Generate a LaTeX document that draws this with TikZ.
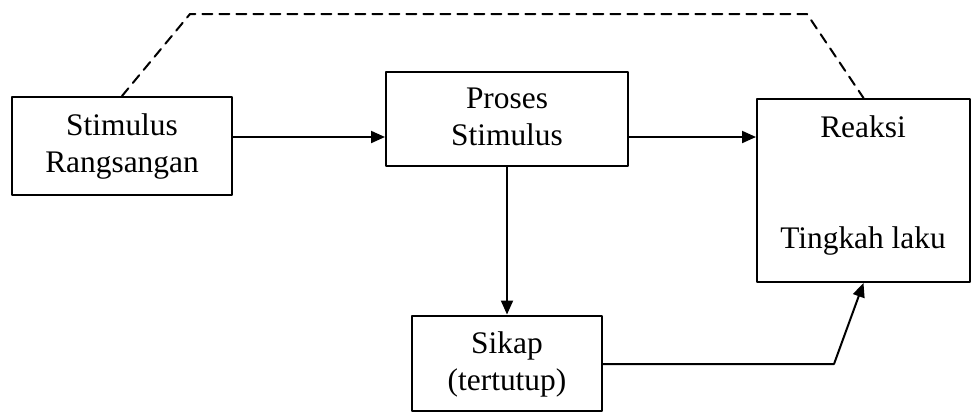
\documentclass[tikz,border=0pt]{standalone}
\usepackage{fontspec}
\setmainfont{Liberation Serif}
\usetikzlibrary{arrows.meta}
\tikzset{
  kotak/.style={draw,line width=1pt,align=center,inner sep=0pt,font=\fontsize{15.7}{18.5}\selectfont},
  panah/.style={->,line width=1pt},
  putus/.style={line width=1pt,dash pattern=on 5pt off 3.5pt}
}
\begin{document}
\begin{tikzpicture}[line cap=round,line join=round,>={Triangle[length=7pt,width=6pt]},x=0.5pt,y=-0.5pt]
				\useasboundingbox (0,0) rectangle (972,413);
				\node[kotak,minimum width=110pt,minimum height=49pt] (stimulus) at (122,146) {Stimulus\\Rangsangan};
				\node[kotak,minimum width=121pt,minimum height=47pt,text depth=2pt] (proses) at (507,119) {Proses\\Stimulus};
				\node[kotak,minimum width=106.5pt,minimum height=91.5pt] (reaksi) at (863.5,190.5) {};
				\node[kotak,minimum width=95pt,minimum height=47.5pt,text depth=2pt] (sikap) at (507,363) {Sikap\\(tertutup)};
				\node[kotak,draw=none,anchor=base] (reaksiatas) at (863,137) {Reaksi};
				\node[kotak,draw=none,anchor=base] (reaksibawah) at (863,248) {Tingkah laku};
				\coordinate (jalur) at (0,137);
				\coordinate (naik) at (190,14);
				\coordinate (turun) at (807,14);
				\coordinate (belok) at (834,364);
				\draw [panah] (stimulus.east |- jalur) -- (proses.west |- jalur);
				\draw [panah] (proses.east |- jalur) -- (reaksi.west |- jalur);
				\draw [panah] (proses.south) -- (sikap.north);
				\draw [panah] (sikap.east |- belok) -- (belok) -- (reaksi.south);
				\draw [putus] (stimulus.north) -- (naik) -- (turun) -- (reaksi.north);
			\end{tikzpicture}
\end{document}
